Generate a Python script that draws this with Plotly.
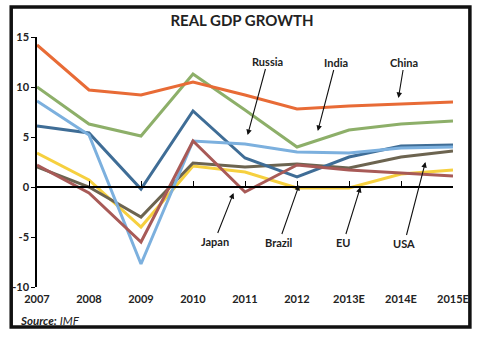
import plotly.graph_objects as go

years = ["2007", "2008", "2009", "2010", "2011", "2012", "2013E", "2014E", "2015E"]
china = [14.2, 9.7, 9.2, 10.5, 9.2, 7.8, 8.1, 8.3, 8.5]
india = [10.0, 6.3, 5.1, 11.3, 7.7, 4.0, 5.7, 6.3, 6.6]
russia = [8.6, 5.2, -7.7, 4.6, 4.3, 3.5, 3.4, 3.9, 4.0]
brazil = [6.1, 5.4, -0.2, 7.6, 2.9, 1.0, 3.0, 4.1, 4.2]
eu = [3.4, 0.7, -4.0, 2.1, 1.5, -0.1, -0.1, 1.3, 1.7]
usa = [2.0, 0.0, -3.0, 2.4, 2.0, 2.3, 1.9, 3.0, 3.6]
japan = [2.2, -0.6, -5.5, 4.6, -0.5, 2.2, 1.7, 1.4, 1.1]

y_ticks = [-10, -5, 0, 5, 10, 15]

series = [
    ("Japan", japan, "#A85A57"),
    ("EU", eu, "#F6D03F"),
    ("USA", usa, "#6C6450"),
    ("Brazil", brazil, "#3F6D96"),
    ("Russia", russia, "#7CB0DE"),
    ("India", india, "#8DAF69"),
    ("China", china, "#E86B36"),
]

idx = list(range(len(years)))
FONT = "Lato"

fig = go.Figure()
for i, (name, vals, col) in enumerate(series):
    fig.add_trace(go.Scatter(
        x=idx, y=vals, mode="lines", name=name,
        line=dict(color=col, width=3),
        xaxis="x2" if i == 0 else "x",
        showlegend=False, hoverinfo="skip",
    ))

# annotations: (label, tip x index, tip y value, ax, ay)
labels = [
    ("Russia", 4.05, 5.2, 20, -74),
    ("India", 5.40, 5.6, 18, -69),
    ("China", 6.95, 8.9, 6, -36),
    ("Japan", 3.78, -0.6, -19, 48),
    ("Brazil", 5.04, 0.2, -20, 57),
    ("EU", 6.22, 0.0, -17, 55),
    ("USA", 7.47, 2.5, -21, 81),
]
annots = []
for name, x, y, ax, ay in labels:
    annots.append(dict(
        x=x, y=y, xref="x", yref="y", ax=ax, ay=ay,
        text="<b>%s</b>" % name, showarrow=True,
        arrowhead=2, arrowsize=1, arrowwidth=1.1, arrowcolor="#111",
        font=dict(family=FONT, size=11, color="#222"),
    ))
annots.append(dict(
    x=-0.045, y=-0.132, xref="paper", yref="paper", xanchor="left", yanchor="middle",
    text="<b><i>Source:</i></b> <i>IMF</i>", showarrow=False,
    font=dict(family=FONT, size=11.5, color="#222"),
))

fig.update_layout(
    width=481, height=337,
    margin=dict(l=34, r=28, t=37, b=50),
    paper_bgcolor="white", plot_bgcolor="white",
    title=dict(text="<b>REAL GDP GROWTH</b>", x=0.503, xref="container",
               y=1 - 21 / 337, yref="container", xanchor="center", yanchor="middle",
               font=dict(family=FONT, size=15, color="#222")),
    xaxis=dict(range=[0, 8], tickvals=idx, ticktext=["<b>%s</b>" % y for y in years],
               showgrid=False, zeroline=False, showline=False, ticks="",
               ticklabelstandoff=4,
               tickfont=dict(family=FONT, size=11, color="#222"), fixedrange=True),
    xaxis2=dict(range=[0, 8], overlaying="x", anchor="free", position=0.4, side="bottom",
                tickvals=idx, showticklabels=False, ticks="inside", ticklen=5,
                tickcolor="black", tickwidth=1.2,
                showline=True, linecolor="black", linewidth=1.5,
                showgrid=False, zeroline=False),
    yaxis=dict(range=[-10, 15], tickvals=y_ticks, ticktext=["<b>%d</b>" % v for v in y_ticks],
               showgrid=False, zeroline=False, showline=True, linecolor="black", linewidth=1.5,
               ticks="outside", ticklen=4, tickcolor="black", tickwidth=1.2,
               tickfont=dict(family=FONT, size=11, color="#222")),
    annotations=annots,
    shapes=[dict(type="rect", xref="paper", yref="paper",
                 x0=-0.062, x1=1.0406, y0=-0.16, y1=1.12,
                 line=dict(color="#111", width=3.5), fillcolor="rgba(0,0,0,0)")],
)

fig.write_html("out.html")
